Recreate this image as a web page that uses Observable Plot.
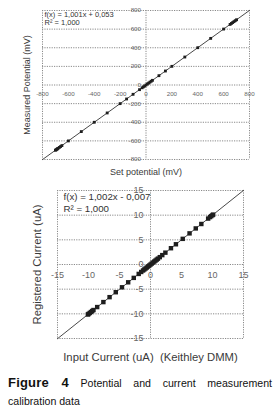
<!DOCTYPE html>
<html>
<head>
<meta charset="utf-8">
<script src="https://cdn.jsdelivr.net/npm/d3@7"></script>
<script src="https://cdn.jsdelivr.net/npm/@observablehq/plot@0.6"></script>
<style>
  html, body { margin: 0; padding: 0; background: #fff; }
  #wrap { position: relative; width: 279px; height: 417px; font-family: "Liberation Sans", Arial, sans-serif; }
  #top, #bottom { position: absolute; left: 0; }
  #top { top: 0; }
  #bottom { top: 180px; }
  #caption { position: absolute; left: 8px; top: 374px; width: 264px; font-size: 10.6px; line-height: 18px; text-align: justify; color: #111; }
  #caption b { font-size: 13px; letter-spacing: 0.2px; }
</style>
</head>
<body>
<div id="wrap">
  <div id="top"></div>
  <div id="bottom"></div>
  <div id="caption"><b>Figure 4</b> Potential and current measurement calibration data</div>
</div>
<script>
// ---- Potential calibration (top chart) ----
const potSet  = [-700, -695, -690, -685, -680, -670, -660, -650, -600, -500, -400, -300, -200, -150, -100, -50, -30, -20, -10, 0, 10, 20, 30, 40, 50, 100, 150, 200, 300, 400, 500, 600, 650, 660, 670, 680, 690, 700];
const potMeas = [-700.6, -695.6, -690.6, -685.6, -680.6, -670.6, -660.6, -650.6, -600.5, -500.4, -400.3, -300.2, -200.1, -150.1, -100.0, -50.0, -30.0, -20.0, -10.0, 0.1, 10.1, 20.1, 30.1, 40.1, 50.1, 100.2, 150.2, 200.3, 300.4, 400.5, 500.6, 600.7, 650.7, 660.7, 670.7, 680.7, 690.7, 700.8];
const potFitX = [-800, 800];
const potFitY = [-800.7, 800.9];
const potTicks = [-800, -600, -400, -200, 0, 200, 400, 600, 800];
const potEq = ["f(x) = 1,001x + 0,053", "R² = 1,000"];

// ---- Current calibration (bottom chart) ----
const curIn  = [-10.1, -10.0, -9.8, -9.6, -9.4, -9.2, -8.6, -7.6, -6.6, -5.6, -4.6, -3.6, -2.7, -1.9, -1.5, -1.2, -1.0, -0.8, -0.6, -0.4, -0.2, 0, 0.2, 0.4, 0.6, 0.8, 1.0, 1.2, 1.5, 1.9, 2.4, 3.3, 4.1, 5.2, 6.3, 7.3, 8.2, 9.3, 9.6, 9.8, 10.0, 10.1];
const curReg = [-10.13, -10.03, -9.83, -9.63, -9.43, -9.23, -8.63, -7.62, -6.62, -5.62, -4.62, -3.61, -2.71, -1.91, -1.51, -1.21, -1.01, -0.81, -0.61, -0.41, -0.21, -0.01, 0.19, 0.39, 0.59, 0.79, 0.99, 1.19, 1.49, 1.90, 2.40, 3.30, 4.10, 5.20, 6.31, 7.31, 8.21, 9.31, 9.61, 9.81, 10.01, 10.11];
const curFitX = [-15, 15];
const curFitY = [-15.04, 15.02];
const curTicks = [-15, -10, -5, 0, 5, 10, 15];
const curEq = ["f(x) = 1,002x - 0,007", "R² = 1,000"];

const FONT = "Liberation Sans, Arial, sans-serif";
const grid = {stroke: "#8a8a8a", strokeWidth: 1, strokeDasharray: "1.2,1.2"};

function chart(o) {
  const pts = o.xs.map((x, i) => ({x, y: o.ys[i]}));
  const fit = o.fx.map((x, i) => ({x, y: o.fy[i]}));
  const lo = o.ticks[0], hi = o.ticks[o.ticks.length - 1];
  return Plot.plot({
    width: 279, height: o.height,
    marginLeft: o.ml, marginRight: o.mr, marginTop: o.mt, marginBottom: o.mb,
    x: {domain: [lo, hi], axis: null},
    y: {domain: [lo, hi], axis: null},
    style: {fontFamily: FONT, background: "transparent"},
    marks: [
      Plot.ruleY(o.ticks, {...grid}),
      Plot.ruleX([lo, 0, hi], {...grid}),
      Plot.line(fit, {x: "x", y: "y", stroke: "#333", strokeWidth: 0.9}),
      Plot.dot(pts, {x: "x", y: "y", symbol: "square", r: o.r, fill: "#1e1e1e", stroke: "none"}),
      Plot.text(o.ticks, {x: d => d, y: 0, text: d => String(d), dy: o.xdy, fontSize: o.tickSize, fill: "#666", textAnchor: "middle"}),
      Plot.text(o.ticks, {x: 0, y: d => d, text: d => String(d), dx: o.ydx, fontSize: o.tickSize, fill: "#666", textAnchor: "end"}),
      Plot.text([o.eq[0]], {frameAnchor: "top-left", dx: o.eqDx, dy: o.eqDy, fontSize: o.eqSize, fill: "#333"}),
      Plot.text([o.eq[1]], {frameAnchor: "top-left", dx: o.eqDx, dy: o.eqDy + o.eqGap, fontSize: o.eqSize, fill: "#333"}),
      Plot.text([o.xTitle], {frameAnchor: "bottom", dy: o.xTitleDy, dx: o.xTitleDx, fontSize: o.titleSize, fill: "#3a3a3a", textAnchor: "middle", lineAnchor: "middle"}),
      Plot.text([o.yTitle], {frameAnchor: "left", dx: o.yTitleDx, rotate: -90, fontSize: o.titleSize, fill: "#3a3a3a", textAnchor: "middle", lineAnchor: "middle"})
    ]
  });
}

document.getElementById("top").appendChild(chart({
  xs: potSet, ys: potMeas, fx: potFitX, fy: potFitY, ticks: potTicks, eq: potEq,
  height: 180, ml: 42, mr: 30, mt: 10, mb: 21, r: 1.6,
  xdy: 9, ydx: -5, tickSize: 6.2,
  eqDx: 2, eqDy: 1, eqSize: 7.5, eqGap: 8.5,
  xTitle: "Set potential (mV)", xTitleDy: 13, xTitleDx: 0,
  yTitle: "Measured Potential (mV)", yTitleDx: -15,
  titleSize: 9
}));

document.getElementById("bottom").appendChild(chart({
  xs: curIn, ys: curReg, fx: curFitX, fy: curFitY, ticks: curTicks, eq: curEq,
  height: 185, ml: 57, mr: 36, mt: 10, mb: 27, r: 2.5,
  xdy: 11, ydx: -7, tickSize: 9,
  eqDx: 6, eqDy: 3, eqSize: 9.7, eqGap: 12,
  xTitle: "Input Current (uA)  (Keithley DMM)", xTitleDy: 19, xTitleDx: 0,
  yTitle: "Registered Current (uA)", yTitleDx: -20,
  titleSize: 11.3
}));
</script>
</body>
</html>
